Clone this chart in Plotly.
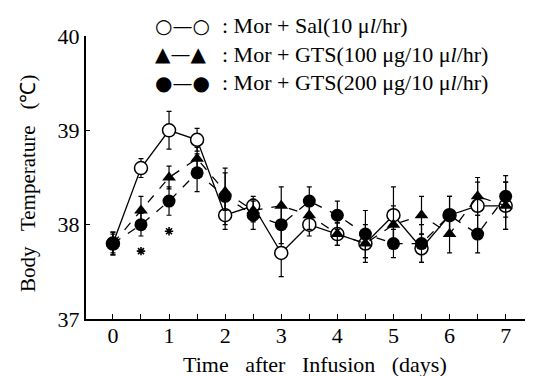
import plotly.graph_objects as go

days = [0, 0.5, 1, 1.5, 2, 2.5, 3, 3.5, 4, 4.5, 5, 5.5, 6, 6.5, 7]
sal = [37.8, 38.6, 39.0, 38.9, 38.1, 38.2, 37.7, 38.0, 37.9, 37.8, 38.1, 37.75, 38.1, 38.2, 38.2]
sal_err = [0.12, 0.1, 0.2, 0.12, 0.15, 0.1, 0.25, 0.12, 0.12, 0.15, 0.3, 0.15, 0.2, 0.25, 0.25]
gts100 = [37.8, 38.15, 38.5, 38.7, 38.35, 38.15, 38.2, 38.1, 37.9, 37.8, 38.0, 38.1, 37.9, 38.3, 38.2]
gts100_err = [0.1, 0.15, 0.12, 0.12, 0.2, 0.12, 0.2, 0.15, 0.12, 0.2, 0.2, 0.2, 0.2, 0.2, 0.25]
gts200 = [37.8, 38.0, 38.25, 38.55, 38.3, 38.1, 38.0, 38.25, 38.1, 37.9, 37.8, 37.8, 38.1, 37.9, 38.3]
gts200_err = [0.12, 0.12, 0.15, 0.2, 0.3, 0.15, 0.2, 0.15, 0.15, 0.25, 0.15, 0.2, 0.2, 0.2, 0.22]
star_x = [0.5, 1]
star_y = [37.72, 37.93]
x_ticks = [0, 0.5, 1, 1.5, 2, 2.5, 3, 3.5, 4, 4.5, 5, 5.5, 6, 6.5, 7]
x_ticktext = ["0", "", "1", "", "2", "", "3", "", "4", "", "5", "", "6", "", "7"]
y_ticks = [37, 38, 39, 40]
legend_symbols = ["○—○", "▲—▲", "●—●"]
legend_labels = [
    "Mor + Sal(10 μ<i>l</i>/hr)",
    "Mor + GTS(100 μg/10 μ<i>l</i>/hr)",
    "Mor + GTS(200 μg/10 μ<i>l</i>/hr)",
]

FONT = "Liberation Serif, Times New Roman, serif"
fig = go.Figure()

def err(a):
    return dict(type="data", array=a, visible=True, color="black", thickness=1.2, width=2.5)

fig.add_trace(go.Scatter(
    x=days, y=sal, mode="lines+markers",
    line=dict(color="black", width=1.3),
    marker=dict(symbol="circle", size=13, color="white", line=dict(color="black", width=1.5)),
    error_y=err(sal_err), showlegend=False))
fig.add_trace(go.Scatter(
    x=days, y=gts100, mode="lines+markers",
    line=dict(color="black", width=1.3, dash="dash"),
    marker=dict(symbol="triangle-up", size=12, color="black"),
    error_y=err(gts100_err), showlegend=False))
fig.add_trace(go.Scatter(
    x=days, y=gts200, mode="lines+markers",
    line=dict(color="black", width=1.3, dash="dash"),
    marker=dict(symbol="circle", size=13, color="black"),
    error_y=err(gts200_err), showlegend=False))
fig.add_trace(go.Scatter(
    x=star_x, y=star_y, mode="markers",
    marker=dict(symbol="asterisk", size=7, color="black", line=dict(color="black", width=1.6)),
    showlegend=False))

legend_y = [18, 46, 75]
for sym, t, yp in zip(legend_symbols, legend_labels, legend_y):
    fig.add_annotation(xref="paper", yref="paper", x=(145 - 78) / (533 - 78), y=(311 - yp) / 283,
                       text=sym, showarrow=False, xanchor="left", yanchor="middle",
                       font=dict(family="DejaVu Sans", size=20, color="black"))
    fig.add_annotation(xref="paper", yref="paper", x=(212 - 78) / (533 - 78), y=(311 - yp) / 283,
                       text=": " + t, showarrow=False, xanchor="left", yanchor="middle",
                       font=dict(family=FONT, size=22, color="black"))

fig.add_annotation(xref="paper", yref="paper", x=(307 - 78) / (533 - 78), y=(311 - 356) / 283,
                   text="Time   after   Infusion   (days)", showarrow=False, xanchor="center", yanchor="middle",
                   font=dict(family=FONT, size=22, color="black"))
fig.add_annotation(xref="paper", yref="paper", x=(20 - 78) / (533 - 78), y=(311 - 176) / 283,
                   text="Body   Temperature   (℃)", showarrow=False, textangle=-90,
                   xanchor="center", yanchor="middle",
                   font=dict(family=FONT, size=21, color="black"))

fig.update_layout(
    width=533, height=376,
    margin=dict(l=78, r=0, t=28, b=65),
    paper_bgcolor="white", plot_bgcolor="white",
    font=dict(family=FONT, size=18, color="black"),
    xaxis=dict(range=[-0.48, 7.63], tickvals=x_ticks, ticktext=x_ticktext,
               ticks="inside", ticklen=5, tickwidth=1, tickcolor="black",
               showline=True, linecolor="black", linewidth=2, showgrid=False, zeroline=False,
               ticklabelstandoff=-4,
               tickfont=dict(family=FONT, size=22)),
    yaxis=dict(range=[37, 40], tickvals=y_ticks,
               ticks="inside", ticklen=4, tickwidth=1, tickcolor="black",
               showline=True, linecolor="black", linewidth=2, showgrid=False, zeroline=False,
               tickfont=dict(family=FONT, size=22)),
)

fig.write_html("out.html")
